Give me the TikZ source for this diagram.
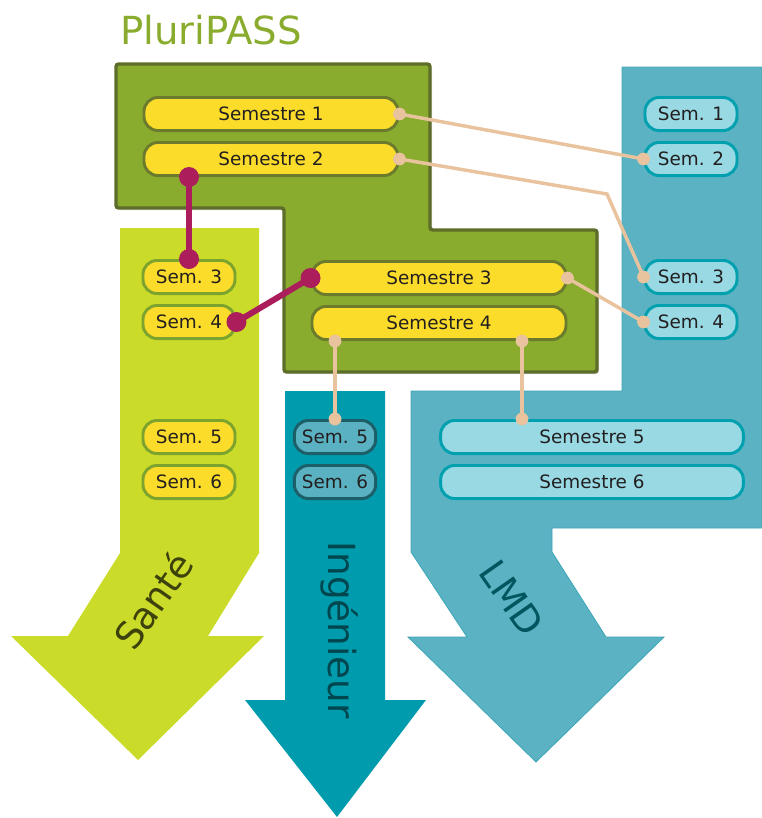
\documentclass[tikz,border=0pt]{standalone}
\usepackage{fontspec}
\setmainfont{DejaVu Sans}
\usetikzlibrary{positioning,shapes,calc,shadows}

\definecolor{sante}{HTML}{CBDB2A}
\definecolor{pluri}{HTML}{89AC2E}
\definecolor{pluriedge}{HTML}{5E6E2A}
\definecolor{inge}{HTML}{009BAC}
\definecolor{lmd}{HTML}{5AB2C2}
\definecolor{lmdedge}{HTML}{3BA6B7}
\definecolor{sun}{HTML}{FBDC2A}
\definecolor{sunedge}{HTML}{6B7A2C}
\definecolor{santeedge}{HTML}{7BA32E}
\definecolor{sky}{HTML}{98D9E4}
\definecolor{skyedge}{HTML}{00A0AF}
\definecolor{ingepill}{HTML}{5AB1C1}
\definecolor{ingeedge}{HTML}{1D5F68}
\definecolor{plum}{HTML}{AC1D5B}
\definecolor{sand}{HTML}{E8C39E}
\definecolor{ink}{HTML}{231F20}

\begin{document}
\begin{tikzpicture}[x=0.75pt,y=-0.75pt,node distance=6.75pt,
	pill/.style={draw, line width=2.2pt, rounded corners=10.5pt, minimum height=24.8pt, inner sep=0pt, text=ink, font=\fontsize{13.8}{15}\selectfont},
	wide/.style={pill, minimum width=190.5pt},
	small/.style={pill, minimum width=69pt},
	passpill/.style={fill=sun, draw=sunedge},
	santepill/.style={fill=sun, draw=santeedge},
	ingepill/.style={fill=ingepill, draw=ingeedge},
	lmdpill/.style={fill=sky, draw=skyedge},
	link/.style={draw=sand, line width=2.6pt},
	tie/.style={draw=plum, line width=4.5pt},
	tag/.style={font=\fontsize{28}{30}\selectfont}]
	\useasboundingbox (0,0) rectangle (762,818);

	% the three tracks
	\fill[lmd, draw=lmdedge, line width=0.6pt] (622,67) -- (762,67) -- (762,528) -- (552,528) -- (552,552) -- (606,637) -- (664,637) -- (536,762) -- (408,637) -- (467,637) -- (411,552) -- (411,391) -- (622,391) -- cycle;
	\fill[sante] (120,228) -- (259,228) -- (259,553) -- (208,636) -- (264,636) -- (138,760) -- (11,636) -- (68,636) -- (120,553) -- cycle;
	\fill[inge] (285,391) -- (385,391) -- (385,700) -- (426,700) -- (337,817) -- (245,700) -- (285,700) -- cycle;

	% PluriPASS block
	\filldraw[fill=pluri, draw=pluriedge, line width=2.6pt, rounded corners=2pt, drop shadow={opacity=0.3, shadow xshift=1.5pt, shadow yshift=-1.5pt}] (116,64) -- (430,64) -- (430,230) -- (597,230) -- (597,372) -- (284,372) -- (284,208) -- (116,208) -- cycle;
	\node[text=pluri, font=\fontsize{29}{31}\selectfont] (title) at (211,30) {PluriPASS};

	% track names
	\node[tag, rotate=55, text=sante!30!black] (santetag) at (153,600) {Santé};
	\node[tag, rotate=-90, text=inge!45!black] (ingetag) at (340,630) {Ingénieur};
	\node[tag, rotate=-55, text=inge!55!black] (lmdtag) at (512,598) {LMD};

	% semesters
	\node[wide, passpill] (pass1) at (271,114) {Semestre 1};
	\node[wide, passpill] (pass2) [below=of pass1] {Semestre 2};
	\node[wide, passpill] (pass3) at (439,278) {Semestre 3};
	\node[wide, passpill] (pass4) [below=of pass3] {Semestre 4};

	\node[small, santepill] (sante3) at (189,277) {Sem. 3};
	\node[small, santepill] (sante4) [below=of sante3] {Sem. 4};
	\node[small, santepill] (sante5) at (189,437) {Sem. 5};
	\node[small, santepill] (sante6) [below=of sante5] {Sem. 6};

	\node[pill, ingepill, minimum width=61pt] (inge5) at (335,437) {Sem. 5};
	\node[pill, ingepill, minimum width=61pt] (inge6) [below=of inge5] {Sem. 6};

	\node[small, lmdpill] (lmd1) at (691,114) {Sem. 1};
	\node[small, lmdpill] (lmd2) [below=of lmd1] {Sem. 2};
	\node[small, lmdpill] (lmd3) at (691,277) {Sem. 3};
	\node[small, lmdpill] (lmd4) [below=of lmd3] {Sem. 4};
	\node[pill, lmdpill, minimum width=227pt] (lmd5) at (592,437) {Semestre 5};
	\node[pill, lmdpill, minimum width=227pt] (lmd6) [below=of lmd5] {Semestre 6};

	% links
	\coordinate (bend) at (607,194);
	\coordinate (drop) at ($(lmd5.north)+(-70,0)$);
	\draw[link] (pass1.east) -- (lmd2.west);
	\draw[link] (pass2.east) -- (bend) -- (lmd3.west);
	\draw[link] (pass3.east) -- (lmd4.west);
	\draw[link] (drop |- pass4.south) -- (drop);
	\draw[link] (inge5.north |- pass4.south) -- (inge5.north);
	\foreach \p in {pass1.east, lmd2.west, pass2.east, lmd3.west, pass3.east, lmd4.west, drop |- pass4.south, drop, inge5.north |- pass4.south, inge5.north}
		\fill[sand] (\p) circle (4.8pt);

	\draw[tie] (sante3.north |- pass2.south) -- (sante3.north);
	\draw[tie] (pass3.west) -- (sante4.east);
	\foreach \p in {sante3.north |- pass2.south, sante3.north, pass3.west, sante4.east}
		\fill[plum] (\p) circle (7.5pt);
\end{tikzpicture}
\end{document}
